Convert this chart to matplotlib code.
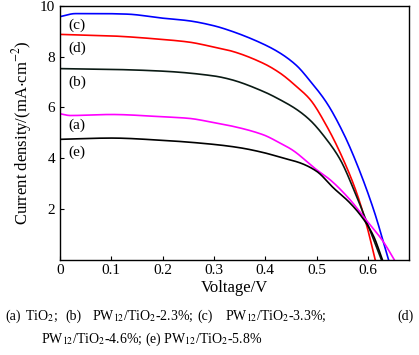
import numpy as np
import matplotlib
matplotlib.use("Agg")
import matplotlib.pyplot as plt

plt.rcParams['font.family'] = ['Liberation Serif', 'DejaVu Serif']
plt.rcParams['mathtext.fontset'] = 'stix'

# J-V curves (V in volts, J in mA/cm^2)
v_c = [0.0, 0.03, 0.08, 0.13, 0.2, 0.25, 0.3, 0.331, 0.396, 0.429, 0.461, 0.487, 0.52, 0.552, 0.575, 0.611, 0.64]
j_c = [9.58, 9.70, 9.70, 9.68, 9.52, 9.42, 9.22, 9.03, 8.50, 8.14, 7.65, 7.05, 6.17, 4.99, 3.94, 1.97, 0.0]

v_d = [0.0, 0.1, 0.2, 0.25, 0.3, 0.331, 0.396, 0.429, 0.461, 0.487, 0.52, 0.552, 0.578, 0.598, 0.614]
j_d = [8.88, 8.82, 8.68, 8.58, 8.38, 8.24, 7.74, 7.35, 6.82, 6.32, 5.25, 3.94, 2.63, 1.31, 0.0]

v_b = [0.0, 0.1, 0.2, 0.3, 0.331, 0.396, 0.429, 0.461, 0.487, 0.52, 0.546, 0.575, 0.601, 0.626]
j_b = [7.53, 7.50, 7.43, 7.24, 7.11, 6.63, 6.30, 5.92, 5.50, 4.72, 3.94, 2.63, 1.31, 0.0]

v_a = [0.0, 0.02, 0.1, 0.2, 0.25, 0.3, 0.331, 0.396, 0.429, 0.452, 0.5, 0.526, 0.565, 0.595, 0.63, 0.651]
j_a = [5.75, 5.68, 5.72, 5.63, 5.57, 5.40, 5.28, 4.92, 4.59, 4.33, 3.54, 3.15, 2.36, 1.60, 0.70, 0.0]

v_e = [0.0, 0.1, 0.2, 0.3, 0.35, 0.396, 0.435, 0.468, 0.5, 0.533, 0.565, 0.591, 0.611, 0.628]
j_e = [4.74, 4.79, 4.70, 4.54, 4.41, 4.22, 4.00, 3.81, 3.48, 2.82, 2.23, 1.60, 0.92, 0.0]

curve_labels = ['(c)', '(d)', '(b)', '(a)', '(e)']
label_j = [9.25, 8.35, 7.0, 5.3, 4.25]
colors = ['#0000ff', '#ff0000', '#0a1a14', '#ff00ff', '#000000']

caption_pieces = ['(a)', r'TiO$_2$;', '(b)', r'PW$_{12}$/TiO$_2$-2.3%;', '(c)',
                  r'PW$_{12}$/TiO$_2$-3.3%;', '(d)']
caption_x = [5, 25, 65, 92, 197, 225, 397]
caption_2 = r'PW$_{12}$/TiO$_2$-4.6%; (e) PW$_{12}$/TiO$_2$-5.8%'


def pchip(x, y, xs):
    # monotone cubic interpolation so the curves look smooth
    x = np.asarray(x, float)
    y = np.asarray(y, float)
    h = np.diff(x)
    d = np.diff(y) / h
    m = np.zeros_like(y)
    for k in range(1, len(x) - 1):
        if d[k - 1] * d[k] > 0:
            w1 = 2 * h[k] + h[k - 1]
            w2 = h[k] + 2 * h[k - 1]
            m[k] = (w1 + w2) / (w1 / d[k - 1] + w2 / d[k])
    m[0] = d[0]
    m[-1] = d[-1]
    idx = np.clip(np.searchsorted(x, xs) - 1, 0, len(x) - 2)
    t = (xs - x[idx]) / h[idx]
    h00 = 2 * t**3 - 3 * t**2 + 1
    h10 = t**3 - 2 * t**2 + t
    h01 = -2 * t**3 + 3 * t**2
    h11 = t**3 - t**2
    return h00 * y[idx] + h10 * h[idx] * m[idx] + h01 * y[idx + 1] + h11 * h[idx] * m[idx + 1]


fig = plt.figure(figsize=(4.19, 3.55), dpi=100)
ax = fig.add_axes([60 / 419, (355 - 259.5) / 355, 349 / 419, 253.5 / 355])

series = [(v_c, j_c), (v_d, j_d), (v_b, j_b), (v_a, j_a), (v_e, j_e)]
for (v, j), col in zip(series, colors):
    vv = np.linspace(v[0], v[-1], 400)
    ax.plot(vv, pchip(v, j, vv), color=col, lw=1.2)

for lab, jl in zip(curve_labels, label_j):
    ax.text(0.033, jl, lab, fontsize=11, ha='center', va='center')

ax.set_xlim(0, 0.68)
ax.set_ylim(0, 10)
ax.set_xticks([0, 0.1, 0.2, 0.3, 0.4, 0.5, 0.6])
ax.set_xticklabels(['0', '0.1', '0.2', '0.3', '0.4', '0.5', '0.6'])
ax.set_yticks([2, 4, 6, 8, 10])
ax.tick_params(direction='in', length=3, width=0.8, labelsize=11)
for s in ax.spines.values():
    s.set_linewidth(1.0)
ax.set_xlabel('Voltage/V', fontsize=12, labelpad=2)
ax.set_ylabel(r'Current density/(mA$\cdot$cm$^{-2}$)', fontsize=12, labelpad=4)

for txt, xp in zip(caption_pieces, caption_x):
    fig.text(xp / 419, 1 - 316 / 355, txt, fontsize=10, ha='left', va='center')
fig.text(41 / 419, 1 - 339 / 355, caption_2, fontsize=10, ha='left', va='center')

fig.savefig('out.png', dpi=100)
